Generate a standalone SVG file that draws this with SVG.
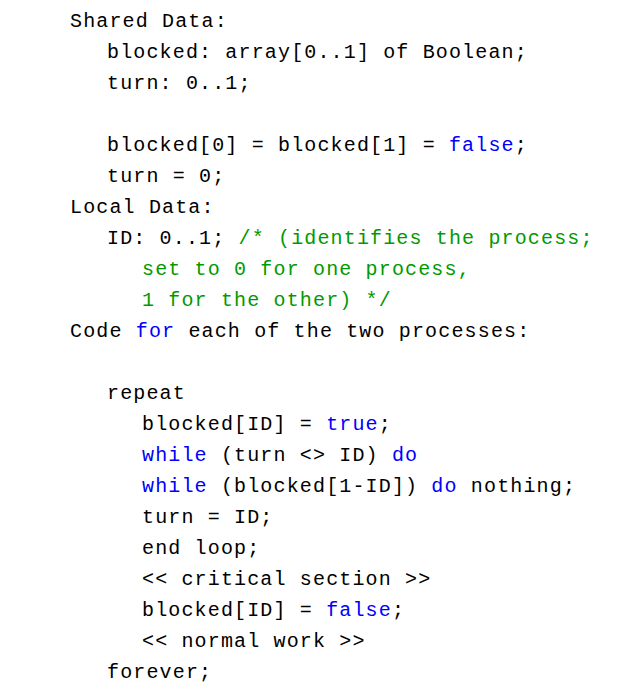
<svg xmlns="http://www.w3.org/2000/svg" width="624" height="688" viewBox="0 0 624 688">
<style>
text{font-family:"Liberation Mono","DejaVu Sans Mono",monospace;font-size:20px;letter-spacing:1.15px;fill:#000;white-space:pre}
.k{fill:#0000ff}
.c{fill:#009a00}
</style>
<rect width="624" height="688" fill="#fff"/>
<text x="70" y="27">Shared Data:</text>
<text x="107" y="58">blocked: array[0..1] of Boolean;</text>
<text x="107" y="89">turn: 0..1;</text>
<text x="107" y="151">blocked[0] = blocked[1] = <tspan class="k">false</tspan>;</text>
<text x="107" y="182">turn = 0;</text>
<text x="70" y="213">Local Data:</text>
<text x="107" y="244">ID: 0..1; <tspan class="c">/* (identifies the process;</tspan></text>
<text x="142" y="275" class="c">set to 0 for one process,</text>
<text x="142" y="306" class="c">1 for the other) */</text>
<text x="70" y="337">Code <tspan class="k">for</tspan> each of the two processes:</text>
<text x="107" y="399">repeat</text>
<text x="142" y="430">blocked[ID] = <tspan class="k">true</tspan>;</text>
<text x="142" y="461"><tspan class="k">while</tspan> (turn &lt;&gt; ID) <tspan class="k">do</tspan></text>
<text x="142" y="492"><tspan class="k">while</tspan> (blocked[1-ID]) <tspan class="k">do</tspan> nothing;</text>
<text x="142" y="523">turn = ID;</text>
<text x="142" y="554">end loop;</text>
<text x="142" y="585">&lt;&lt; critical section &gt;&gt;</text>
<text x="142" y="616">blocked[ID] = <tspan class="k">false</tspan>;</text>
<text x="142" y="647">&lt;&lt; normal work &gt;&gt;</text>
<text x="107" y="678">forever;</text>
</svg>
